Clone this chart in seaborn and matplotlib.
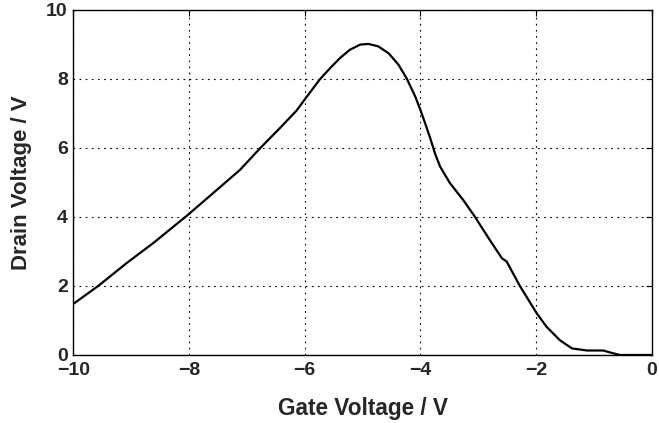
import matplotlib
matplotlib.use('Agg')
import matplotlib.pyplot as plt
import pandas as pd
import seaborn as sns

# values
gate_v = [-10.0, -9.57, -9.08, -8.62, -8.04, -7.52, -7.12, -6.77, -6.43, -6.14,
          -6.0, -5.74, -5.56, -5.39, -5.22, -5.04, -4.90, -4.73, -4.55, -4.38,
          -4.24, -4.09, -4.0, -3.92, -3.83, -3.74, -3.66, -3.49, -3.26, -3.06,
          -2.80, -2.59, -2.51, -2.28, -1.99, -1.82, -1.59, -1.38, -1.12, -0.84,
          -0.67, -0.55, -0.41, 0.0]
drain_v = [1.48, 2.0, 2.66, 3.24, 4.03, 4.78, 5.36, 5.99, 6.57, 7.08,
           7.40, 7.98, 8.31, 8.60, 8.84, 8.99, 9.01, 8.94, 8.74, 8.41,
           8.02, 7.49, 7.10, 6.72, 6.28, 5.80, 5.46, 4.98, 4.49, 4.01,
           3.33, 2.80, 2.71, 2.0, 1.21, 0.82, 0.43, 0.19, 0.13, 0.13,
           0.05, 0.0, 0.0, 0.0]

x_ticks = [-10, -8, -6, -4, -2, 0]
y_ticks = [0, 2, 4, 6, 8, 10]

df = pd.DataFrame({'gate': gate_v, 'drain': drain_v})

sns.set_style('white')
plt.rcParams['font.family'] = ['Liberation Sans', 'DejaVu Sans']
plt.rcParams['font.weight'] = 'bold'

fig = plt.figure(figsize=(6.59, 4.23), dpi=100)
ax = fig.add_axes([0.1113, 0.1608, 0.8777, 0.8162])

sns.lineplot(data=df, x='gate', y='drain', color='black', linewidth=1.6, ax=ax)

ax.set_xlim(-10, 0)
ax.set_ylim(0, 10)
ax.set_xticks(x_ticks)
ax.set_yticks(y_ticks)
ax.set_xticklabels(['\u2212' + str(abs(t)) if t < 0 else str(t) for t in x_ticks])
ax.grid(True, color='black', linestyle=(0, (1.5, 4)), linewidth=0.8)
ax.tick_params(direction='in', length=4, width=0.8, color='black',
               top=True, right=True, labelsize=14)
ax.tick_params(axis='x', pad=5)
ax.tick_params(axis='y', pad=4)
for lbl in ax.get_xticklabels() + ax.get_yticklabels():
    lbl.set_fontweight('bold')
for s in ax.spines.values():
    s.set_color('black')
    s.set_linewidth(1.0)

ax.set_xlabel('Gate Voltage / V', fontsize=16.3, fontweight='bold', labelpad=13)
ax.set_ylabel('Drain Voltage / V', fontsize=16, fontweight='bold', labelpad=10)

fig.savefig('out.png', dpi=100)
